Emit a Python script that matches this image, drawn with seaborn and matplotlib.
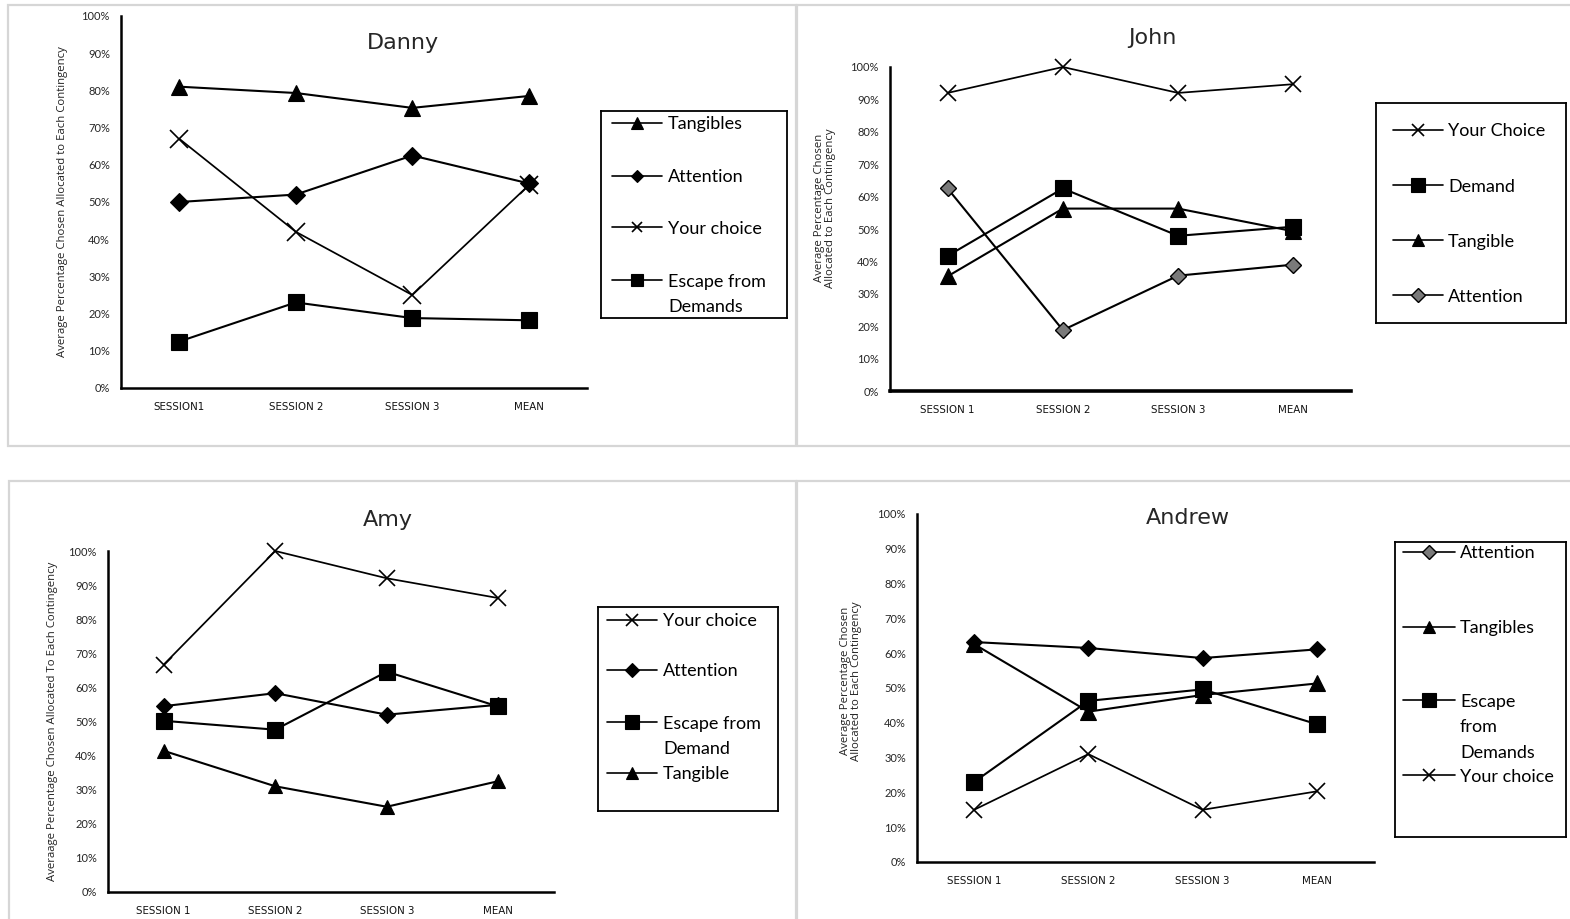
import numpy as np
import pandas as pd
import matplotlib
matplotlib.use("Agg")
import matplotlib.pyplot as plt
import seaborn as sns
from matplotlib.patches import Rectangle
from matplotlib.ticker import FuncFormatter

sns.set_theme(style="white")
plt.rcParams["font.family"] = ["Lato", "DejaVu Sans"]

# ---------------- data (average % chosen per contingency) ----------------
danny_sessions = ["SESSION1", "SESSION 2", "SESSION 3", "MEAN"]
sessions = ["SESSION 1", "SESSION 2", "SESSION 3", "MEAN"]

danny_tangibles = [81.0, 79.3, 75.3, 78.5]
danny_attention = [50.0, 52.0, 62.5, 55.0]
danny_your_choice = [67.0, 42.0, 25.0, 54.5]
danny_escape = [12.5, 23.0, 18.8, 18.2]

john_your_choice = [92.0, 100.0, 92.0, 94.7]
john_demand = [41.7, 62.5, 47.9, 50.7]
john_tangible = [35.4, 56.3, 56.3, 49.3]
john_attention = [62.5, 18.8, 35.6, 39.0]

amy_your_choice = [66.7, 100.0, 92.0, 86.2]
amy_attention = [54.5, 58.3, 52.0, 54.9]
amy_escape = [50.2, 47.6, 64.6, 54.4]
amy_tangible = [41.4, 31.0, 25.0, 32.5]

andrew_attention = [63.2, 61.5, 58.6, 61.1]
andrew_tangibles = [62.6, 43.2, 48.0, 51.3]
andrew_escape = [23.0, 46.3, 49.6, 39.6]
andrew_your_choice = [15.0, 31.0, 15.0, 20.3]

# ---------------- styling ----------------
W, H = 1570, 919
fig = plt.figure(figsize=(W / 100, H / 100), dpi=100)
fig.patch.set_facecolor("white")

STYLE = {
    "tri": dict(marker="^", mfc="black", lw=1.5, mew=0.8),
    "sq": dict(marker="s", mfc="black", lw=1.5, mew=0.8),
    "dia": dict(marker="D", mfc="black", lw=1.5, mew=0.8),
    "dia_gray": dict(marker="D", mfc="#7a7a7a", lw=1.5, mew=1.0),
    "x": dict(marker="x", mfc="black", lw=1.25, mew=1.2),
}


def px_box(x0, y0, x1, y1):
    return [x0 / W, 1 - y1 / H, (x1 - x0) / W, (y1 - y0) / H]


def panel_border(x0, y0, x1, y1):
    fig.add_artist(Rectangle((x0 / W, 1 - y1 / H), (x1 - x0) / W, (y1 - y0) / H,
                             transform=fig.transFigure, fill=False,
                             edgecolor="#d6d6d6", lw=1.6, zorder=0))


def draw_series(ax, labels, values, kind, size):
    st = STYLE[kind]
    df = pd.DataFrame({"session": labels, "pos": np.arange(len(labels)), "value": values})
    sns.lineplot(data=df, x="pos", y="value", ax=ax, sort=False, color="black",
                 lw=st["lw"], marker=st["marker"], markersize=size,
                 markerfacecolor=st["mfc"], markeredgecolor="black",
                 markeredgewidth=st["mew"], clip_on=False)


def style_axes(ax, labels, ylabel, ylabel_xy, title, title_xy, title_size=16,
               bottom_lw=1.8):
    ax.set_facecolor("none")
    ax.set_xlim(-0.5, len(labels) - 0.5)
    ax.set_ylim(0, 100)
    ax.set_xticks(np.arange(len(labels)))
    ax.set_xticklabels(labels, fontsize=7.4, family="DejaVu Sans", color="#111111")
    ax.set_xticks(np.arange(-0.5, len(labels), 1), minor=True)
    ax.tick_params(axis="x", which="major", length=0, pad=10)
    ax.tick_params(axis="x", which="minor", direction="inout", length=6,
                   width=1.3, color="black")
    ax.set_yticks(np.arange(0, 101, 10))
    ax.yaxis.set_major_formatter(FuncFormatter(lambda v, p: f"{int(v)}%"))
    ax.tick_params(axis="y", direction="out", length=4, width=1.3, color="black",
                   pad=4, labelsize=8)
    for s in ("top", "right"):
        ax.spines[s].set_visible(False)
    ax.spines["left"].set_linewidth(1.8)
    ax.spines["bottom"].set_linewidth(bottom_lw)
    for s in ("left", "bottom"):
        ax.spines[s].set_color("black")
    ax.set_xlabel("")
    ax.set_ylabel(ylabel, fontsize=8.2, family="Open Sans", color="#222222",
                  rotation=90, rotation_mode="default", ha="center", va="center",
                  linespacing=1.05)
    ax.yaxis.set_label_coords(*ylabel_xy)
    ax.set_title(title, x=title_xy[0], y=title_xy[1], va="center", pad=0,
                 fontsize=title_size, family="DejaVu Sans")


def draw_legend(box, entries, hx, tx, ys, sizes, fs=13):
    x0, y0, x1, y1 = box
    lax = fig.add_axes(px_box(x0, y0, x1, y1))
    lax.set_xlim(x0, x1)
    lax.set_ylim(y1, y0)
    lax.set_xticks([])
    lax.set_yticks([])
    lax.set_facecolor("white")
    for sp in lax.spines.values():
        sp.set_visible(True)
        sp.set_color("black")
        sp.set_linewidth(1.3)
    for (label, kind), y, ms in zip(entries, ys, sizes):
        st = STYLE[kind]
        mid = (hx[0] + hx[1]) / 2
        lax.plot([hx[0], mid, hx[1]], [y, y, y], color="black", lw=1.2,
                 marker=st["marker"], markevery=[1], markersize=ms,
                 markerfacecolor=st["mfc"], markeredgecolor="black",
                 markeredgewidth=st["mew"])
        lax.text(tx, y - 6.5, label, va="top", ha="left", fontsize=fs,
                 linespacing=1.75, color="black")


# panel frames
panel_border(8, 5, 796, 446)
panel_border(797, 5, 1580, 446)
panel_border(9, 481, 796, 930)
panel_border(797, 481, 1580, 930)

# ---------------- Danny ----------------
ax = fig.add_axes(px_box(121, 16, 587, 388))
draw_series(ax, danny_sessions, danny_tangibles, "tri", 12)
draw_series(ax, danny_sessions, danny_attention, "dia", 9)
draw_series(ax, danny_sessions, danny_your_choice, "x", 13)
draw_series(ax, danny_sessions, danny_escape, "sq", 12)
style_axes(ax, danny_sessions,
           "Average Percentage Chosen Allocated to Each Contingency",
           (-0.125, 0.5), "Danny", (0.604, 0.927))
draw_legend((601, 111, 787, 318),
            [("Tangibles", "tri"), ("Attention", "dia"), ("Your choice", "x"),
             ("Escape from\nDemands", "sq")],
            (612, 662), 668, [123, 176, 227, 280], [8, 6, 7, 8])

# ---------------- John ----------------
ax = fig.add_axes(px_box(890, 67, 1351, 391))
draw_series(ax, sessions, john_your_choice, "x", 11.5)
draw_series(ax, sessions, john_demand, "sq", 12)
draw_series(ax, sessions, john_tangible, "tri", 11.5)
draw_series(ax, sessions, john_attention, "dia_gray", 8.5)
style_axes(ax, sessions,
           "Average Percentage Chosen\nAllocated to Each Contingency",
           (-0.141, 0.565), "John", (0.57, 1.09), bottom_lw=2.6)
draw_legend((1376, 103, 1566, 323),
            [("Your Choice", "x"), ("Demand", "sq"), ("Tangible", "tri"),
             ("Attention", "dia_gray")],
            (1393, 1443), 1448, [130, 185, 240, 295], [9, 9.5, 9, 7])

# ---------------- Amy ----------------
ax = fig.add_axes(px_box(108, 551, 554, 892))
draw_series(ax, sessions, amy_your_choice, "x", 11.5)
draw_series(ax, sessions, amy_attention, "dia", 8.5)
draw_series(ax, sessions, amy_escape, "sq", 11.5)
draw_series(ax, sessions, amy_tangible, "tri", 9.5)
style_axes(ax, sessions,
           "Averaage Percentage Chosen Allocated To Each Contingency",
           (-0.125, 0.5), "Amy", (0.628, 1.09))
draw_legend((598, 607, 778, 811),
            [("Your choice", "x"), ("Attention", "dia"),
             ("Escape from\nDemand", "sq"), ("Tangible", "tri")],
            (607, 657), 663, [620, 670, 722, 773], [9, 7, 9.5, 8])

# ---------------- Andrew ----------------
ax = fig.add_axes(px_box(917, 514, 1374, 862))
draw_series(ax, sessions, andrew_attention, "dia", 8.5)
draw_series(ax, sessions, andrew_tangibles, "tri", 11)
draw_series(ax, sessions, andrew_escape, "sq", 11.5)
draw_series(ax, sessions, andrew_your_choice, "x", 12)
style_axes(ax, sessions,
           "Average Percentage Chosen\nAllocated to Each Contingency",
           (-0.144, 0.52), "Andrew", (0.593, 0.988))
draw_legend((1395, 542, 1566, 837),
            [("Attention", "dia_gray"), ("Tangibles", "tri"),
             ("Escape\nfrom\nDemands", "sq"), ("Your choice", "x")],
            (1403, 1455), 1460, [552, 627, 700, 775], [7, 9, 9.5, 9])

fig.savefig("out.png", dpi=100, facecolor="white")
